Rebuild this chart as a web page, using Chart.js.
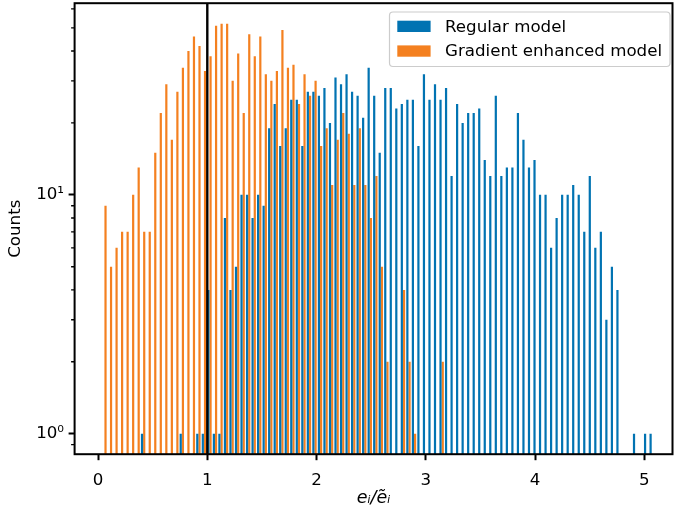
<!DOCTYPE html>
<html>
<head>
<meta charset="utf-8">
<script src="https://cdn.jsdelivr.net/npm/chart.js@4"></script>
<style>
  html, body { margin: 0; padding: 0; background: #fff; }
  #wrap { width: 674px; height: 514px; }
</style>
</head>
<body>
<div id="wrap"><canvas id="histChart"></canvas></div>
<script>
// histogram: 100 common bins
const binStart = 0.033;
const binWidth = 0.0506;

const regularCounts = [
  null, null, null, null, null, null, null, 1, null, null,
  null, null, null, null, 1, null, null, 1, 1, 4,
  1, 1, 8, 4, 5, 10, 10, 8, 10, 9,
  19, 24, 16, 19, 25, 25, 16, 27, 27, 26,
  28, 20, 31, 29, 32, 27, 26, 21, 34, 26,
  15, 28, 28, 23, 24, 25, 25, 16, 32, 25,
  29, 25, 28, 12, 24, 20, 22, 22, 23, 14,
  12, 26, 12, 13, 13, 22, 17, 13, 14, 10,
  10, 6, 8, 10, 10, 11, 10, 7, 12, 6,
  7, 3, 5, 4, null, null, 1, null, 1, 1
];

const gradientCounts = [
  9, 5, 6, 7, 7, 10, 13, 7, 7, 15,
  22, 29, 17, 27, 34, 40, 46, 42, 33, 38,
  51, 52, 52, 30, 39, 22, 47, 38, 46, 32,
  30, 33, 49, 34, 35, 24, 32, 26, 30, 16,
  19, 11, 17, 22, 18, 11, 19, 11, 8, 12,
  5, 2, null, null, 4, 2, 1, null, null, null,
  null, 2, null, null, null, null, null, null, null, null,
  null, null, null, null, null, null, null, null, null, null,
  null, null, null, null, null, null, null, null, null, null,
  null, null, null, null, null, null, null, null, null, null
];

const seriesNames = ['Regular model', 'Gradient enhanced model'];
const xTicks = [0, 1, 2, 3, 4, 5];
const yTicks = [0.9, 1, 2, 3, 4, 5, 6, 7, 8, 9, 10, 20, 30, 40, 50, 60];
const yMajor = [1, 10];
const refLineX = 1;

const binCenters = regularCounts.map((_, i) => +(binStart + (i + 0.5) * binWidth).toFixed(4));

const FONT = 'DejaVu Sans';
Chart.defaults.font.family = FONT;
Chart.defaults.font.size = 16.67;
Chart.defaults.color = '#000';

const supers = { 1: '10\u2070', 10: '10\u00b9' };

// axvline + spines + short minor ticks
const framePlugin = {
  id: 'frame',
  afterDatasetsDraw(chart) {
    const { ctx, chartArea: a, scales: { x, y } } = chart;
    ctx.save();
    ctx.strokeStyle = '#000';
    ctx.lineWidth = 2.4;
    const px = x.getPixelForValue(refLineX);
    ctx.beginPath();
    ctx.moveTo(px, a.top);
    ctx.lineTo(px, a.bottom);
    ctx.stroke();

    ctx.lineWidth = 1.4;
    ctx.beginPath();
    yTicks.forEach(v => {
      if (!yMajor.includes(v)) {
        const py = y.getPixelForValue(v);
        ctx.moveTo(a.left - 3.5, py);
        ctx.lineTo(a.left, py);
      }
    });
    ctx.stroke();

    ctx.lineWidth = 2;
    ctx.strokeRect(a.left, a.top, a.right - a.left, a.bottom - a.top);
    ctx.restore();
  }
};

const legendPlugin = {
  id: 'legendBox',
  afterDraw(chart) {
    const { ctx } = chart;
    ctx.save();
    ctx.beginPath();
    ctx.roundRect(389.5, 12, 280.5, 54.5, 3.5);
    ctx.fillStyle = 'rgba(255,255,255,0.8)';
    ctx.fill();
    ctx.strokeStyle = '#cccccc';
    ctx.lineWidth = 1.2;
    ctx.stroke();
    ctx.font = '16.67px "' + FONT + '"';
    ctx.textBaseline = 'alphabetic';
    chart.data.datasets.forEach((ds, i) => {
      const top = 20.7 + i * 24.7;
      ctx.fillStyle = ds.backgroundColor;
      ctx.fillRect(397.3, top, 33.3, 11.3);
      ctx.fillStyle = '#000';
      ctx.fillText(ds.label, 445, top + 11);
    });
    ctx.restore();
  }
};

new Chart(document.getElementById('histChart'), {
  type: 'bar',
  data: {
    labels: binCenters,
    datasets: [
      {
        label: seriesNames[0],
        data: regularCounts,
        backgroundColor: '#0173b2',
        borderWidth: 0,
        categoryPercentage: 0.8,
        barPercentage: 1.0
      },
      {
        label: seriesNames[1],
        data: gradientCounts,
        backgroundColor: '#f48020',
        borderWidth: 0,
        categoryPercentage: 0.8,
        barPercentage: 1.0
      }
    ]
  },
  options: {
    responsive: true,
    maintainAspectRatio: false,
    animation: false,
    layout: { padding: { top: 3.2, right: 1.5, left: 0, bottom: 0 } },
    plugins: {
      legend: { display: false },
      tooltip: { enabled: false }
    },
    scales: {
      x: {
        type: 'linear',
        min: -0.2146,
        max: 5.258,
        offset: false,
        afterBuildTicks: axis => { axis.ticks = xTicks.map(v => ({ value: v })); },
        afterFit: axis => {
          axis.height = 59.8;
          axis.paddingLeft = 0;
          axis.paddingRight = 0;
        },
        grid: {
          offset: false,
          drawOnChartArea: false,
          tickLength: 6,
          tickWidth: 2,
          tickColor: '#000'
        },
        border: { display: false },
        ticks: { padding: 10, autoSkip: false, maxRotation: 0, callback: v => String(v) },
        title: {
          display: true,
          text: 'e\u1d62/e\u0303\u1d62',
          font: { style: 'italic', size: 17.5 },
          padding: { top: 0, bottom: 5 }
        }
      },
      y: {
        type: 'logarithmic',
        min: 0.821,
        max: 63.4,
        afterBuildTicks: axis => { axis.ticks = yMajor.map(v => ({ value: v, major: true })); },
        afterFit: axis => {
          axis.width = 74.6;
          axis.paddingTop = 0;
          axis.paddingBottom = 0;
        },
        grid: {
          drawOnChartArea: false,
          tickLength: 6,
          tickWidth: 2,
          tickColor: '#000'
        },
        border: { display: false },
        ticks: {
          padding: 4.6,
          autoSkip: false,
          callback: v => supers[v] || ''
        },
        title: {
          display: true,
          text: 'Counts',
          padding: { top: 6, bottom: 0 }
        }
      }
    }
  },
  plugins: [framePlugin, legendPlugin]
});
</script>
</body>
</html>
